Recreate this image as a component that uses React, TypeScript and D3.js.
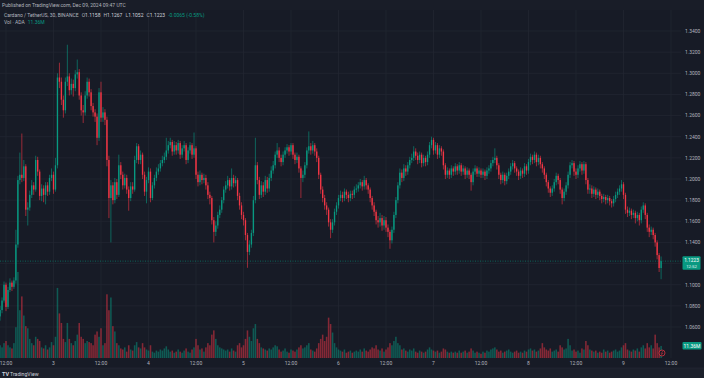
import React from 'react';
import * as d3 from 'd3';

const W = 704;
const H = 378;

// 30-minute candles, first one at Dec 2 2024 10:30 UTC
const startTime = Date.UTC(2024, 11, 2, 10, 30);
const stepMs = 30 * 60 * 1000;
const firstOpen = 1.070;

const closes = [
  1.076,1.085,1.100,1.079,1.095,1.102,1.098,1.104,1.138,1.199,
  1.204,1.201,1.212,1.171,1.173,1.185,1.194,1.190,1.218,1.207,
  1.184,1.191,1.185,1.194,1.188,1.201,1.204,1.190,1.213,1.296,
  1.292,1.275,1.265,1.292,1.297,1.284,1.290,1.286,1.299,1.301,
  1.279,1.265,1.263,1.279,1.292,1.282,1.269,1.263,1.259,1.239,
  1.282,1.258,1.263,1.256,1.218,1.182,1.194,1.180,1.197,1.185,
  1.213,1.204,1.194,1.201,1.190,1.182,1.193,1.190,1.218,1.231,
  1.218,1.223,1.204,1.188,1.199,1.207,1.182,1.194,1.201,1.207,
  1.210,1.215,1.218,1.221,1.227,1.232,1.235,1.226,1.232,1.227,
  1.234,1.223,1.229,1.232,1.218,1.227,1.232,1.223,1.229,1.204,
  1.197,1.204,1.199,1.201,1.194,1.185,1.182,1.161,1.150,1.156,
  1.166,1.171,1.180,1.190,1.194,1.199,1.193,1.201,1.196,1.199,
  1.184,1.175,1.166,1.161,1.147,1.131,1.138,1.149,1.180,1.213,
  1.199,1.185,1.194,1.188,1.199,1.191,1.201,1.208,1.213,1.223,
  1.227,1.220,1.216,1.223,1.227,1.230,1.226,1.232,1.223,1.218,
  1.221,1.210,1.201,1.204,1.213,1.227,1.231,1.227,1.232,1.226,
  1.220,1.204,1.190,1.182,1.175,1.171,1.159,1.152,1.159,1.169,
  1.175,1.182,1.185,1.182,1.188,1.185,1.182,1.186,1.185,1.190,
  1.191,1.194,1.197,1.193,1.199,1.194,1.190,1.182,1.175,1.169,
  1.161,1.159,1.163,1.156,1.161,1.154,1.150,1.142,1.152,1.166,
  1.180,1.194,1.206,1.201,1.210,1.207,1.213,1.218,1.220,1.226,
  1.222,1.218,1.223,1.215,1.220,1.216,1.223,1.232,1.237,1.227,
  1.232,1.223,1.229,1.226,1.213,1.204,1.208,1.204,1.210,1.207,
  1.212,1.208,1.213,1.207,1.210,1.204,1.208,1.204,1.197,1.207,
  1.210,1.205,1.208,1.204,1.207,1.203,1.208,1.210,1.215,1.218,
  1.220,1.213,1.204,1.199,1.204,1.198,1.203,1.207,1.212,1.215,
  1.210,1.207,1.203,1.208,1.205,1.212,1.208,1.216,1.221,1.218,
  1.223,1.216,1.220,1.214,1.210,1.204,1.197,1.191,1.187,1.191,
  1.197,1.203,1.199,1.190,1.182,1.188,1.194,1.204,1.213,1.215,
  1.207,1.204,1.210,1.214,1.208,1.214,1.199,1.190,1.191,1.186,
  1.190,1.185,1.188,1.184,1.181,1.183,1.180,1.182,1.179,1.177,
  1.181,1.185,1.188,1.191,1.195,1.185,1.171,1.168,1.170,1.166,
  1.168,1.163,1.166,1.161,1.171,1.175,1.166,1.154,1.150,1.152,
  1.147,1.140,1.128,1.1158,1.1223,
];

const highs = [
  1.080,1.088,1.103,1.102,1.098,1.106,1.104,1.107,1.152,1.203,
  1.225,1.243,1.218,1.214,1.178,1.189,1.199,1.197,1.222,1.221,
  1.209,1.195,1.194,1.197,1.197,1.204,1.210,1.207,1.220,1.300,
  1.310,1.296,1.279,1.296,1.327,1.300,1.295,1.294,1.303,1.313,
  1.304,1.282,1.270,1.283,1.296,1.295,1.285,1.272,1.266,1.262,
  1.286,1.292,1.268,1.266,1.259,1.222,1.199,1.197,1.201,1.200,
  1.223,1.216,1.207,1.205,1.204,1.193,1.197,1.197,1.222,1.234,
  1.233,1.227,1.225,1.207,1.202,1.211,1.210,1.197,1.204,1.211,
  1.214,1.218,1.222,1.225,1.239,1.236,1.239,1.237,1.236,1.235,
  1.237,1.236,1.232,1.236,1.234,1.230,1.235,1.234,1.244,1.231,
  1.207,1.208,1.206,1.205,1.204,1.197,1.188,1.184,1.164,1.160,
  1.169,1.175,1.183,1.193,1.198,1.203,1.201,1.210,1.204,1.203,
  1.201,1.187,1.178,1.169,1.163,1.149,1.142,1.152,1.184,1.239,
  1.216,1.202,1.198,1.197,1.203,1.202,1.205,1.212,1.217,1.226,
  1.234,1.230,1.223,1.226,1.230,1.233,1.232,1.234,1.234,1.225,
  1.225,1.223,1.212,1.208,1.216,1.230,1.245,1.234,1.236,1.234,
  1.229,1.222,1.206,1.193,1.185,1.178,1.173,1.162,1.162,1.172,
  1.178,1.185,1.189,1.188,1.191,1.190,1.188,1.189,1.189,1.193,
  1.195,1.197,1.200,1.199,1.203,1.201,1.196,1.192,1.184,1.178,
  1.171,1.165,1.168,1.166,1.165,1.164,1.157,1.152,1.155,1.169,
  1.183,1.197,1.210,1.209,1.214,1.213,1.216,1.221,1.224,1.231,
  1.229,1.225,1.226,1.225,1.223,1.222,1.226,1.235,1.240,1.239,
  1.235,1.234,1.232,1.231,1.228,1.215,1.211,1.210,1.213,1.212,
  1.215,1.214,1.216,1.215,1.213,1.212,1.211,1.210,1.206,1.210,
  1.213,1.212,1.211,1.210,1.210,1.209,1.211,1.213,1.218,1.221,
  1.229,1.222,1.215,1.206,1.207,1.206,1.206,1.210,1.215,1.218,
  1.217,1.212,1.209,1.211,1.210,1.215,1.214,1.219,1.224,1.223,
  1.226,1.225,1.223,1.222,1.216,1.212,1.206,1.199,1.193,1.194,
  1.200,1.206,1.205,1.201,1.192,1.191,1.197,1.207,1.216,1.218,
  1.217,1.210,1.213,1.217,1.216,1.217,1.216,1.201,1.195,1.194,
  1.193,1.192,1.191,1.190,1.186,1.186,1.185,1.185,1.184,1.181,
  1.184,1.188,1.191,1.194,1.199,1.197,1.187,1.174,1.173,1.172,
  1.171,1.170,1.169,1.168,1.174,1.178,1.177,1.168,1.157,1.155,
  1.154,1.149,1.142,1.130,1.1267,
];

const lows = [
  1.066,1.073,1.083,1.075,1.077,1.093,1.094,1.096,1.101,1.135,
  1.195,1.197,1.198,1.165,1.156,1.170,1.182,1.185,1.188,1.203,
  1.180,1.179,1.178,1.176,1.184,1.185,1.198,1.186,1.188,1.210,
  1.286,1.270,1.258,1.262,1.288,1.279,1.280,1.278,1.283,1.295,
  1.275,1.260,1.253,1.260,1.276,1.278,1.265,1.259,1.254,1.232,
  1.236,1.254,1.254,1.251,1.212,1.163,1.140,1.176,1.177,1.181,
  1.183,1.200,1.190,1.191,1.186,1.170,1.179,1.186,1.188,1.215,
  1.214,1.214,1.200,1.184,1.177,1.196,1.178,1.180,1.191,1.198,
  1.204,1.207,1.212,1.215,1.218,1.224,1.229,1.222,1.223,1.223,
  1.224,1.219,1.220,1.226,1.214,1.215,1.224,1.219,1.220,1.200,
  1.193,1.194,1.195,1.196,1.190,1.181,1.176,1.157,1.140,1.146,
  1.153,1.163,1.168,1.177,1.187,1.191,1.189,1.190,1.192,1.193,
  1.180,1.171,1.162,1.156,1.142,1.116,1.128,1.135,1.146,1.177,
  1.195,1.181,1.182,1.183,1.185,1.187,1.188,1.198,1.205,1.210,
  1.220,1.216,1.212,1.213,1.220,1.224,1.222,1.223,1.219,1.214,
  1.215,1.206,1.182,1.197,1.201,1.210,1.224,1.223,1.224,1.222,
  1.216,1.200,1.186,1.178,1.171,1.166,1.155,1.144,1.149,1.156,
  1.166,1.172,1.179,1.178,1.179,1.181,1.178,1.179,1.181,1.182,
  1.187,1.188,1.191,1.189,1.190,1.190,1.186,1.178,1.171,1.165,
  1.157,1.154,1.155,1.151,1.152,1.150,1.145,1.134,1.139,1.149,
  1.163,1.177,1.191,1.197,1.198,1.203,1.204,1.210,1.215,1.217,
  1.218,1.214,1.215,1.211,1.212,1.212,1.213,1.220,1.229,1.223,
  1.224,1.219,1.220,1.222,1.209,1.200,1.201,1.200,1.201,1.203,
  1.204,1.204,1.205,1.203,1.204,1.200,1.201,1.200,1.189,1.194,
  1.204,1.202,1.202,1.201,1.201,1.199,1.200,1.205,1.207,1.212,
  1.215,1.209,1.200,1.195,1.196,1.194,1.195,1.200,1.204,1.209,
  1.206,1.203,1.199,1.200,1.201,1.202,1.204,1.205,1.213,1.214,
  1.215,1.212,1.213,1.210,1.206,1.200,1.193,1.187,1.183,1.184,
  1.188,1.194,1.195,1.186,1.176,1.179,1.185,1.191,1.201,1.210,
  1.203,1.200,1.201,1.207,1.204,1.205,1.195,1.186,1.186,1.182,
  1.183,1.181,1.182,1.180,1.177,1.178,1.176,1.177,1.175,1.173,
  1.174,1.178,1.182,1.185,1.188,1.181,1.167,1.164,1.165,1.162,
  1.163,1.158,1.160,1.156,1.158,1.168,1.162,1.150,1.145,1.147,
  1.143,1.136,1.124,1.112,1.1052,
];

// volume in millions of ADA
const volumes = [
  12,10,14,16,12,10,9,14,29,81,
  45,58,40,30,28,18,14,12,20,18,
  16,10,9,12,8,10,15,12,20,66,
  42,33,18,15,33,18,14,12,16,22,
  33,20,18,14,16,15,14,12,22,25,
  20,28,12,14,60,45,57,30,25,14,
  12,9,8,10,6,12,8,7,12,15,
  10,9,14,10,8,7,12,6,5,7,
  6,8,7,9,11,8,6,7,5,6,
  8,6,5,7,9,6,5,8,10,18,
  12,8,9,6,10,14,12,22,26,18,
  12,10,9,8,7,8,6,9,7,6,
  12,14,10,12,18,26,20,16,28,32,
  18,14,10,9,8,7,9,8,10,12,
  11,8,6,7,9,6,5,8,7,6,
  8,10,12,9,10,12,14,8,7,6,
  9,14,18,22,16,20,38,32,24,14,
  10,8,7,6,8,5,6,7,5,6,
  7,6,8,6,9,7,6,8,10,9,
  12,8,7,9,6,8,10,14,12,16,
  20,14,12,8,9,7,6,8,7,9,
  6,5,7,6,5,6,8,10,8,7,
  6,7,5,6,9,8,6,5,6,5,
  6,5,7,5,6,7,5,6,9,7,
  5,6,5,4,6,5,7,6,8,9,
  10,8,6,7,5,6,7,8,6,5,
  6,7,5,6,5,7,6,8,9,7,
  8,6,7,9,14,10,8,7,9,6,
  7,8,6,12,10,8,9,18,12,7,
  8,6,7,5,9,8,16,12,8,7,
  6,7,5,6,5,8,6,7,5,6,
  7,8,6,7,10,12,14,8,7,6,
  8,7,9,6,10,12,9,14,10,12,
  9,22,14,10,11.36,
];

const priceTicks = [1.34, 1.32, 1.30, 1.28, 1.26, 1.24, 1.22, 1.20, 1.18, 1.16, 1.14, 1.12, 1.10, 1.08, 1.06];
const lastPrice = 1.1223;
const lastPriceLabel = '1.1223';
const countdownLabel = '12:52';
const lastVolumeLabel = '11.36M';
const publishedText = 'Published on TradingView.com, Dec 09, 2024 09:47 UTC';
const symbolText = 'Cardano / TetherUS, 30, BINANCE';
const ohlcParts = [['O', '1.1158'], ['H', '1.1267'], ['L', '1.1052'], ['C', '1.1223']];
const changeText = '-0.0065 (-0.58%)';
const volLegend = 'Vol · ADA';

const BG = '#171b26';
const GRID = '#222631';
const TEXT = '#b2b5be';
const UP = '#089981';
const DOWN = '#f23645';
const FONT = "Roboto, 'Liberation Sans', sans-serif";

export default function App() {
  const plotRight = 681;
  const plotTop = 10;
  const plotBottom = 358;

  const x = d3
    .scaleUtc()
    .domain([new Date(Date.UTC(2024, 11, 2, 12)), new Date(Date.UTC(2024, 11, 9, 12))])
    .range([6, 671]);
  const y = d3.scaleLinear().domain([1.06, 1.34]).range([327, 31]);
  const yv = d3.scaleLinear().domain([0, 81]).range([plotBottom, 272]);

  const candles = closes.map((c, i) => {
    const o = i === 0 ? firstOpen : closes[i - 1];
    return {
      t: new Date(startTime + i * stepMs),
      o,
      c,
      h: highs[i],
      l: lows[i],
      v: volumes[i],
      up: c >= o,
    };
  });

  const timeTicks = d3.utcHour.every(12)!.range(
    new Date(Date.UTC(2024, 11, 2, 12)),
    new Date(Date.UTC(2024, 11, 9, 13))
  );
  const fmtDay = d3.utcFormat('%-d');
  const fmtHour = d3.utcFormat('%H:%M');
  const tickLabel = (d: Date) => (d.getUTCHours() === 0 ? fmtDay(d) : fmtHour(d));

  const bodyW = 1.35;
  const volW = 1.55;
  const lastY = y(lastPrice);
  const lastVolY = yv(volumes[volumes.length - 1]);
  // axis labels that sit under the last-price tag are hidden by it, as in TradingView
  const visibleTicks = priceTicks.filter((p) => Math.abs(y(p) - lastY) > 8);

  return (
    <svg
      width={W}
      height={H}
      style={{ position: 'fixed', left: 0, top: 0, display: 'block' }}
      fontFamily={FONT}
    >
      <rect x={0} y={0} width={W} height={H} fill={BG} />
      <rect x={0} y={0} width={W} height={10} fill="#191d28" />

      <g>
        {priceTicks.map((p) => (
          <line key={'h' + p} x1={0} x2={plotRight} y1={y(p)} y2={y(p)} stroke={GRID} strokeWidth={0.8} />
        ))}
        {timeTicks.map((t) => (
          <line key={'v' + t.getTime()} x1={x(t)} x2={x(t)} y1={plotTop} y2={plotBottom} stroke={GRID} strokeWidth={0.8} />
        ))}
      </g>

      <g>
        {candles.map((d, i) => (
          <rect
            key={'v' + i}
            x={x(d.t) - volW / 2}
            y={yv(d.v)}
            width={volW}
            height={plotBottom - yv(d.v)}
            fill={d.up ? UP : DOWN}
            fillOpacity={0.5}
          />
        ))}
      </g>

      <g>
        {candles.map((d, i) => {
          const cx = x(d.t);
          const top = y(Math.max(d.o, d.c));
          const bot = y(Math.min(d.o, d.c));
          const col = d.up ? UP : DOWN;
          return (
            <g key={'c' + i}>
              <line x1={cx} x2={cx} y1={y(d.h)} y2={y(d.l)} stroke={col} strokeWidth={0.6} />
              <rect x={cx - bodyW / 2} y={top} width={bodyW} height={Math.max(0.7, bot - top)} fill={col} />
            </g>
          );
        })}
      </g>

      <line x1={0} x2={plotRight} y1={lastY} y2={lastY} stroke={UP} strokeWidth={0.7} strokeDasharray="1,1.5" opacity={0.8} />

      <g fontSize={5} fill={TEXT}>
        {visibleTicks.map((p) => (
          <text key={'pl' + p} x={685} y={y(p) + 1.8}>
            {p.toFixed(4)}
          </text>
        ))}
      </g>

      <rect x={682.5} y={lastY - 5} width={18} height={13.5} rx={1} fill={UP} />
      <text x={691.5} y={lastY + 1.2} fontSize={4.8} fill="#ffffff" textAnchor="middle">
        {lastPriceLabel}
      </text>
      <text x={691.5} y={lastY + 7.2} fontSize={4.3} fill="#e6f4f1" textAnchor="middle">
        {countdownLabel}
      </text>

      <rect x={682.5} y={lastVolY - 4} width={19} height={7.5} rx={1} fill={UP} />
      <text x={692} y={lastVolY + 1.8} fontSize={5} fill="#ffffff" textAnchor="middle">
        {lastVolumeLabel}
      </text>

      <circle cx={662} cy={353} r={3} fill={BG} stroke={DOWN} strokeWidth={0.7} />
      <path d="M663,351 L661.2,353.4 L662.8,353.4 L661,355.2" fill="none" stroke={DOWN} strokeWidth={0.5} />

      <g fontSize={5} fill={TEXT} textAnchor="middle">
        {timeTicks.map((t) => (
          <text key={'tl' + t.getTime()} x={x(t)} y={365}>
            {tickLabel(t)}
          </text>
        ))}
      </g>

      <rect x={0} y={368} width={W} height={10} fill="#1c202b" />
      <line x1={0} x2={W} y1={368} y2={368} stroke="#262a35" strokeWidth={0.6} />
      <text x={2} y={375.5} fontSize={5.5} fontWeight="bold" fill="#d1d4dc">
        TV
      </text>
      <text x={10} y={375.5} fontSize={5.2} fill="#d1d4dc">
        TradingView
      </text>

      <text x={2} y={6.5} fontSize={5} fill={TEXT}>
        {publishedText}
      </text>
      <text x={4} y={16.5} fontSize={5} fill={TEXT}>
        <tspan>{symbolText}</tspan>
        {ohlcParts.map(([k, v]) => (
          <tspan key={k} dx={3}>
            {k}
            <tspan fill="#d1d4dc">{v}</tspan>
          </tspan>
        ))}
        <tspan dx={3} fill={UP}>
          {changeText}
        </tspan>
      </text>
      <text x={4} y={23.5} fontSize={5} fill={TEXT}>
        <tspan>{volLegend}</tspan>
        <tspan dx={3} fill={UP}>
          {lastVolumeLabel}
        </tspan>
      </text>
    </svg>
  );
}
